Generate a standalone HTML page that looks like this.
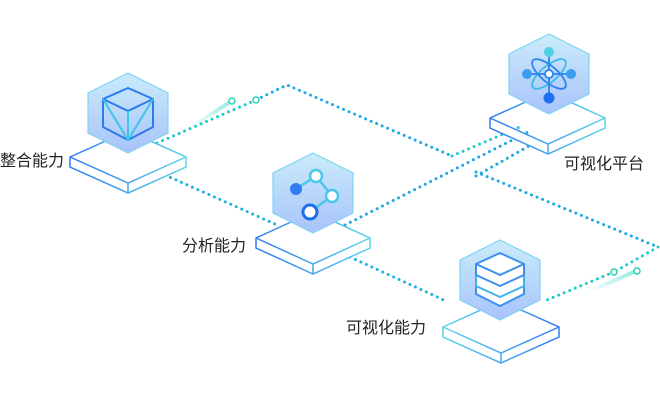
<!DOCTYPE html>
<html><head><meta charset="utf-8"><style>
html,body{margin:0;padding:0;background:#fff;width:660px;height:400px;overflow:hidden}
svg{display:block}
text{font-family:"Liberation Sans","Noto Sans CJK SC",sans-serif;font-size:16px;fill:#222}
</style></head><body>
<svg width="660" height="400" viewBox="0 0 660 400" xmlns="http://www.w3.org/2000/svg">
<defs>
<linearGradient id="hx" x1="0" y1="0" x2="0" y2="1"><stop offset="0" stop-color="#c9ecfa"/><stop offset="1" stop-color="#a9c3fb"/></linearGradient>
<linearGradient id="sl" x1="0" y1="0" x2="1" y2="0"><stop offset="0" stop-color="#2f7bf3"/><stop offset="1" stop-color="#5cd3ea"/></linearGradient>
<linearGradient id="sl2" x1="0" y1="0" x2="1" y2="0"><stop offset="0" stop-color="#5cd3ea"/><stop offset="1" stop-color="#2f7bf3"/></linearGradient>
<linearGradient id="gl" x1="0" y1="1" x2="1" y2="0"><stop offset="0" stop-color="#2fd9c4" stop-opacity="0"/><stop offset="1" stop-color="#2fd9c4" stop-opacity=".5"/></linearGradient>
</defs>
<g fill="none" stroke-width="3" stroke-linecap="round" stroke-dasharray="0 6">
<polyline points="157,143 256,100" stroke="#1fc9c9"/>
<polyline points="256,100 287,85 452,156" stroke="#19a8e6"/>
<polyline points="452,156 522,126" stroke="#1fc9c9"/>
<polyline points="165,175 275,224" stroke="#1ab2e0"/>
<polyline points="345,225 532,130" stroke="#19a8e6"/>
<polyline points="476,176 536,142" stroke="#19a8e6"/>
<polyline points="476,172 658,247" stroke="#19a8e6"/>
<polyline points="658,247 614,272" stroke="#1fc9c9"/>
<polyline points="614,272 542,302" stroke="#1fc9c9"/>
<polyline points="350,257 448,302" stroke="#1ab2e0"/>
</g>
<line x1="190" y1="128" x2="230" y2="102" stroke="url(#gl)" stroke-width="4" stroke-linecap="round"/>
<line x1="588" y1="292" x2="634" y2="272" stroke="url(#gl)" stroke-width="4" stroke-linecap="round"/>
<g fill="#fff" stroke="#26d1b6" stroke-width="1.5">
<circle cx="232" cy="101" r="3"/><circle cx="256" cy="100" r="3"/>
<circle cx="614" cy="272" r="3"/><circle cx="637" cy="271" r="3"/>
</g>

<g fill="#fff" stroke-width="1.5">
<path d="M70,157 L128,131 L186,157 L186,167 L128,193 L70,167 Z M70,157 L128,183 L186,157 M128,183 L128,193" stroke="url(#sl)"/>
<path d="M256,238 L313,212 L370,238 L370,248 L313,274 L256,248 Z M256,238 L313,264 L370,238 M313,264 L313,274" stroke="url(#sl)"/>
<path d="M490,118 L548,92 L605,118 L605,128 L548,154 L490,128 Z M490,118 L548,144 L605,118 M548,144 L548,154" stroke="url(#sl)"/>
<path d="M443,327 L501,301 L559,327 L559,337 L501,363 L443,337 Z M443,327 L501,353 L559,327 M501,353 L501,363" stroke="url(#sl2)"/>
</g>

<g fill="url(#hx)" stroke="#7fd3f2" stroke-width="1.2">
<polygon points="128,73 168,93 168,133 128,153 88,133 88,93"/>
<polygon points="313,153 353,173 353,213 313,233 273,213 273,173"/>
<polygon points="549,34 589,54 589,94 549,114 509,94 509,54"/>
<polygon points="500,240 540,260 540,300 500,320 460,300 460,260"/>
</g>

<g fill="none" stroke-width="2" stroke-linejoin="round">
<polygon points="128,88 153,99 153,127 128,140 103,127 103,99" stroke="#2a7af0"/>
<polyline points="103,99 128,111 153,99" stroke="#2a7af0"/>
<line x1="128" y1="111" x2="128" y2="140" stroke="#3fc3e8"/>
<polyline points="103,99 128,140 153,99" stroke="#3fc3e8"/>
</g>
<g stroke-width="2.5">
<line x1="296" y1="189" x2="316" y2="176" stroke="#4ac6ea"/>
<line x1="316" y1="176" x2="332" y2="196" stroke="#4ac6ea"/>
<line x1="332" y1="196" x2="310" y2="212" stroke="#4ac6ea"/>
<circle cx="296" cy="189" r="6" fill="#2f7df0" stroke="none"/>
<circle cx="316" cy="176" r="6" fill="#fff" stroke="#4ac6ea"/>
<circle cx="332" cy="196" r="6" fill="#fff" stroke="#4ac6ea"/>
<circle cx="310" cy="212" r="7" fill="#fff" stroke="#1e6df0" stroke-width="3"/>
</g>
<g fill="none" stroke="#2a82f0" stroke-width="1.8">
<ellipse cx="549" cy="74" rx="21" ry="8" transform="rotate(40 549 74)"/>
<ellipse cx="549" cy="74" rx="21" ry="8" transform="rotate(-40 549 74)" stroke="#3fb8ea"/>
<line x1="527" y1="74" x2="571" y2="74"/><line x1="549" y1="52" x2="549" y2="96"/>
</g>
<circle cx="549" cy="52" r="5" fill="#4fd0e6"/>
<circle cx="527" cy="74" r="5" fill="#3c9cf0"/>
<circle cx="571" cy="74" r="5" fill="#3c9cf0"/>
<circle cx="549" cy="98" r="5.5" fill="#1e6ef0"/>
<circle cx="549" cy="74" r="4" fill="#fff" stroke="#2a82f0" stroke-width="1.8"/>
<g fill="#fff" stroke-width="2" stroke-linejoin="round">
<polygon points="476,286 500,275 524,286 524,294 500,306 476,294" stroke="#3a8ff0"/>
<polygon points="476,275 500,264 524,275 524,286 500,297 476,286" stroke="#3fb4ea"/>
<polygon points="476,264 500,253 524,264 524,275 500,286 476,275" stroke="#3a8ff0"/>
<polyline points="476,264 500,275 524,264" stroke="#3a8ff0" fill="none"/>
</g>

<text x="0" y="166">整合能力</text>
<text x="182" y="251">分析能力</text>
<text x="564" y="169">可视化平台</text>
<text x="346" y="333">可视化能力</text>
</svg>
</body></html>
